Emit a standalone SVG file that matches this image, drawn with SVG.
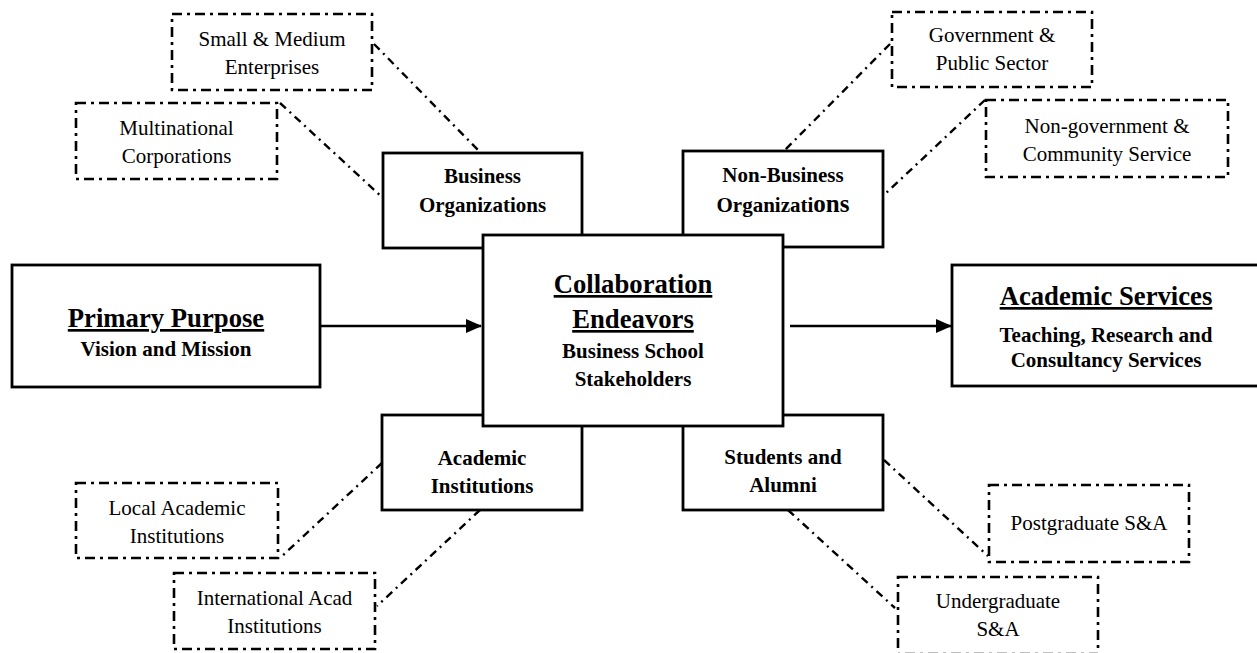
<svg xmlns="http://www.w3.org/2000/svg" width="1257" height="653" viewBox="0 0 1257 653">
<defs>
<style>
.solid{fill:#fff;stroke:#000;stroke-width:2.8}
.dash{fill:#fff;stroke:#000;stroke-width:2.6;stroke-dasharray:10 5 3 5}
.conn{fill:none;stroke:#000;stroke-width:2.4;stroke-dasharray:8 5 2 5}
.arrow{fill:none;stroke:#000;stroke-width:2.4}
.t{font-family:"Liberation Serif","Times New Roman",serif;font-size:21px;fill:#000;text-anchor:middle}
.b{font-family:"Liberation Serif","Times New Roman",serif;font-size:21px;font-weight:bold;fill:#000;text-anchor:middle}
.h{font-family:"Liberation Serif","Times New Roman",serif;font-size:26.7px;font-weight:bold;fill:#000;text-anchor:middle;text-decoration:underline}
</style>
<marker id="ah" viewBox="0 0 16 14" refX="15" refY="7" markerWidth="16" markerHeight="14" markerUnits="userSpaceOnUse" orient="auto">
<path d="M0,0 L16,7 L0,14 Z" fill="#000"/>
</marker>
</defs>
<rect width="1257" height="653" fill="#fff"/>

<g id="connectors">
<line class="conn" x1="374" y1="44" x2="480" y2="152"/>
<line class="conn" x1="280" y1="103" x2="383" y2="198"/>
<line class="conn" x1="890" y1="44" x2="785" y2="150"/>
<line class="conn" x1="985" y1="100" x2="884" y2="195"/>
<line class="conn" x1="382" y1="463" x2="280" y2="558"/>
<line class="conn" x1="480" y1="510" x2="377" y2="606"/>
<line class="conn" x1="884" y1="460" x2="988" y2="556"/>
<line class="conn" x1="788" y1="510" x2="895" y2="608"/>
<line class="arrow" x1="320" y1="326" x2="481" y2="326" marker-end="url(#ah)"/>
<line class="arrow" x1="790" y1="326" x2="951" y2="326" marker-end="url(#ah)"/>
</g>

<g id="sme">
<rect class="dash" x="172" y="14" width="200" height="76"/>
<text class="t" x="272" y="46">Small &amp; Medium</text>
<text class="t" x="272" y="74">Enterprises</text>
</g>
<g id="mnc">
<rect class="dash" x="76" y="103" width="201" height="76"/>
<text class="t" x="176.5" y="135">Multinational</text>
<text class="t" x="176.5" y="163">Corporations</text>
</g>
<g id="gov">
<rect class="dash" x="892" y="12" width="200" height="75"/>
<text class="t" x="992" y="42">Government &amp;</text>
<text class="t" x="992" y="70">Public Sector</text>
</g>
<g id="ngo">
<rect class="dash" x="986" y="100" width="242" height="77"/>
<text class="t" x="1107" y="133">Non-government &amp;</text>
<text class="t" x="1107" y="161">Community Service</text>
</g>
<g id="local">
<rect class="dash" x="76" y="483" width="202" height="75"/>
<text class="t" x="177" y="515">Local Academic</text>
<text class="t" x="177" y="543">Institutions</text>
</g>
<g id="intl">
<rect class="dash" x="174" y="573" width="201" height="76"/>
<text class="t" x="274.5" y="605">International Acad</text>
<text class="t" x="274.5" y="633">Institutions</text>
</g>
<g id="postgrad">
<rect class="dash" x="989" y="485" width="200" height="77"/>
<text class="t" x="1089" y="530">Postgraduate S&amp;A</text>
</g>
<g id="undergrad">
<rect class="dash" x="898" y="577" width="200" height="77"/>
<text class="t" x="998" y="608">Undergraduate</text>
<text class="t" x="998" y="636">S&amp;A</text>
</g>

<g id="business">
<rect class="solid" x="383" y="153" width="199" height="95"/>
<text class="b" x="482.5" y="183">Business</text>
<text class="b" x="482.5" y="212">Organizations</text>
</g>
<g id="nonbusiness">
<rect class="solid" x="683" y="151" width="200" height="96"/>
<text class="b" x="783" y="182">Non-Business</text>
<text class="b" x="783" y="212">Organizati<tspan font-size="25">ons</tspan></text>
</g>
<g id="academic">
<rect class="solid" x="382" y="415" width="200" height="95"/>
<text class="b" x="482" y="465">Academic</text>
<text class="b" x="482" y="493">Institutions</text>
</g>
<g id="students">
<rect class="solid" x="683" y="415" width="200" height="95"/>
<text class="b" x="783" y="464">Students and</text>
<text class="b" x="783" y="492">Alumni</text>
</g>

<g id="collaboration">
<rect class="solid" x="483" y="235" width="300" height="191"/>
<text class="h" x="633" y="293">Collaboration</text>
<text class="h" x="633" y="328">Endeavors</text>
<text class="b" x="633" y="358">Business School</text>
<text class="b" x="633" y="386">Stakeholders</text>
</g>

<g id="primary">
<rect class="solid" x="12" y="265" width="308" height="122"/>
<text class="h" x="166" y="327">Primary Purpose</text>
<text class="b" x="166" y="356">Vision and Mission</text>
</g>

<g id="services">
<rect class="solid" x="952" y="265" width="310" height="121"/>
<text class="h" x="1106" y="305">Academic Services</text>
<text class="b" x="1106" y="342">Teaching, Research and</text>
<text class="b" x="1106" y="367">Consultancy Services</text>
</g>
</svg>
